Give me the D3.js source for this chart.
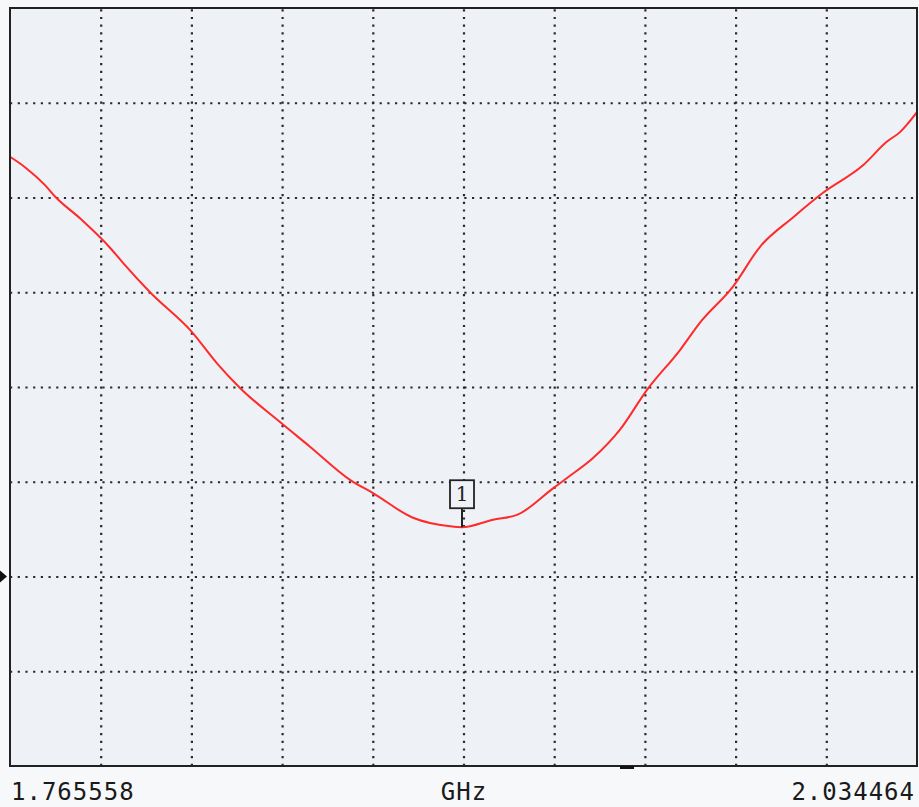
<!DOCTYPE html>
<html>
<head>
<meta charset="utf-8">
<script src="https://cdn.jsdelivr.net/npm/d3@7"></script>
<style>
  html, body { margin: 0; padding: 0; background: #f7f8fa; }
  svg { display: block; }
  .lbl { font-family: "DejaVu Sans Mono", monospace; font-size: 24px; fill: #1a1a1a; letter-spacing: 1px; }
</style>
</head>
<body>
<div id="chart"></div>
<script>
// Sweep limits (GHz) and trace readings in screen divisions (0 = bottom, 8 = top)
var startFreq = 1.765558, stopFreq = 2.034464;
var freqs = [1.76556, 1.77000, 1.77594, 1.77890, 1.78631, 1.79521, 1.79906, 1.80707,
    1.81952, 1.82693, 1.83375, 1.84561, 1.85450, 1.86636, 1.87318, 1.88504, 1.89601,
    1.89957, 1.90876, 1.91587, 1.92655, 1.93070, 1.93841, 1.94641, 1.95442, 1.96420,
    1.97013, 1.97991, 1.98792, 1.99770, 2.00660, 2.01846, 2.02557, 2.02943, 2.03446];
var levels = [6.43, 6.32, 6.13, 6.01, 5.78, 5.47, 5.31, 5.00,
    4.58, 4.25, 3.99, 3.63, 3.37, 3.02, 2.88, 2.62, 2.53,
    2.52, 2.60, 2.65, 2.93, 3.04, 3.25, 3.55, 3.97, 4.39,
    4.68, 5.06, 5.48, 5.79, 6.05, 6.34, 6.59, 6.69, 6.90];
var xDivisions = 10, yDivisions = 8;
var markerFreq = 1.89957, markerLevel = 2.52;
var refLevel = 2;            // reference arrow on the left edge
var cursorFreq = 1.94849;    // little dash under the frame
var labels = ["1.765558", "GHz", "2.034464"];

var W = 919, H = 807;
var margin = { top: 8, right: 2, bottom: 41, left: 10 },
    width = W - margin.left - margin.right,
    height = H - margin.top - margin.bottom;

var svg = d3.select("#chart").append("svg")
    .attr("width", W)
    .attr("height", H);

var g = svg.append("g")
    .attr("transform", "translate(" + margin.left + "," + margin.top + ")");

var x = d3.scaleLinear().domain([startFreq, stopFreq]).range([0, width]);
var y = d3.scaleLinear().domain([0, yDivisions]).range([height, 0]);

// plot background
g.append("rect")
    .attr("width", width)
    .attr("height", height)
    .attr("fill", "#eef2f7");

// dotted graticule
var xGrid = d3.range(1, xDivisions).map(function (i) {
    return startFreq + (stopFreq - startFreq) * i / xDivisions;
});
var yGrid = d3.range(1, yDivisions);

g.append("g")
    .attr("class", "grid")
    .attr("transform", "translate(0," + height + ")")
    .call(d3.axisBottom(x).tickValues(xGrid).tickSize(-height).tickFormat(""))
    .call(function (s) { s.select(".domain").remove(); });

g.append("g")
    .attr("class", "grid")
    .call(d3.axisLeft(y).tickValues(yGrid).tickSize(-width).tickFormat(""))
    .call(function (s) { s.select(".domain").remove(); });

g.selectAll(".grid line")
    .attr("stroke", "#2a2a2a")
    .attr("stroke-width", 2.2)
    .attr("stroke-dasharray", "2.2,5.5");

// trace
var data = freqs.map(function (f, i) { return { f: f, v: levels[i] }; });
var line = d3.line()
    .x(function (d) { return x(d.f); })
    .y(function (d) { return y(d.v); })
    .curve(d3.curveMonotoneX);

g.append("path")
    .datum(data)
    .attr("fill", "none")
    .attr("stroke", "#ff2a2a")
    .attr("stroke-width", 2)
    .attr("d", line);

// marker 1
var mx = x(markerFreq), my = y(markerLevel);
g.append("line")
    .attr("x1", mx).attr("x2", mx)
    .attr("y1", my).attr("y2", my - 19)
    .attr("stroke", "#222").attr("stroke-width", 2);
g.append("rect")
    .attr("x", mx - 12).attr("y", my - 47)
    .attr("width", 24).attr("height", 28)
    .attr("fill", "#eef2f7")
    .attr("stroke", "#222").attr("stroke-width", 1.8);
g.append("text")
    .attr("x", mx).attr("y", my - 26)
    .attr("text-anchor", "middle")
    .style("font-family", "DejaVu Serif, serif")
    .style("font-size", "20px")
    .attr("fill", "#222")
    .text("1");

// frame
g.append("rect")
    .attr("width", width)
    .attr("height", height)
    .attr("fill", "none")
    .attr("stroke", "#222")
    .attr("stroke-width", 2);

// reference arrow
var ry = y(refLevel);
g.append("path")
    .attr("d", "M" + (-10) + "," + (ry - 6) + "L" + (-3) + "," + ry + "L" + (-10) + "," + (ry + 6) + "Z")
    .attr("fill", "#111");

// cursor dash under frame
g.append("rect")
    .attr("x", x(cursorFreq) - 7).attr("y", height)
    .attr("width", 14).attr("height", 3)
    .attr("fill", "#111");

// labels
svg.append("text").attr("class", "lbl")
    .attr("x", 11).attr("y", 800)
    .text(labels[0]);
svg.append("text").attr("class", "lbl")
    .attr("x", 464).attr("y", 800)
    .attr("text-anchor", "middle")
    .text(labels[1]);
svg.append("text").attr("class", "lbl")
    .attr("x", 915).attr("y", 800)
    .attr("text-anchor", "end")
    .text(labels[2]);
</script>
</body>
</html>
